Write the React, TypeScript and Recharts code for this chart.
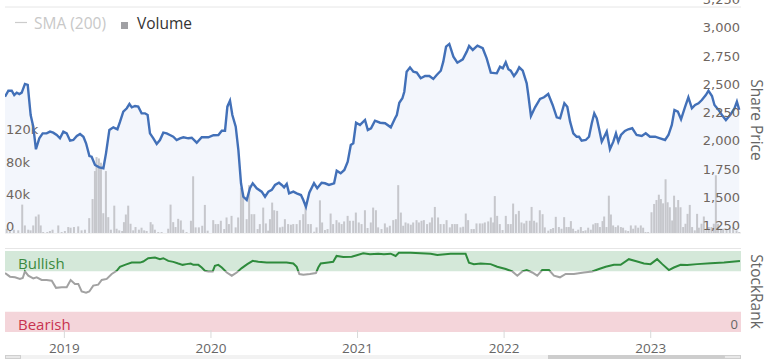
import React from "react";
import { ComposedChart, Line, Area, Bar, XAxis, YAxis, CartesianGrid, ReferenceArea } from "recharts";

// ---- Share price (decimal year, GBp) ----
const priceT = [2018.595,2018.618,2018.641,2018.658,2018.675,2018.693,2018.709,2018.731,2018.750,2018.770,2018.788,2018.806,2018.829,2018.852,2018.879,2018.902,2018.924,2018.948,2018.970,2018.993,2019.016,2019.039,2019.061,2019.085,2019.107,2019.130,2019.148,2019.171,2019.186,2019.209,2019.238,2019.266,2019.284,2019.307,2019.334,2019.362,2019.380,2019.402,2019.426,2019.444,2019.460,2019.482,2019.504,2019.527,2019.550,2019.568,2019.584,2019.607,2019.630,2019.652,2019.675,2019.698,2019.720,2019.743,2019.766,2019.789,2019.812,2019.846,2019.869,2019.903,2019.937,2019.982,2020.017,2020.051,2020.074,2020.096,2020.112,2020.130,2020.146,2020.169,2020.187,2020.205,2020.221,2020.244,2020.266,2020.285,2020.312,2020.346,2020.369,2020.392,2020.415,2020.437,2020.464,2020.483,2020.499,2020.517,2020.533,2020.562,2020.585,2020.614,2020.630,2020.648,2020.671,2020.703,2020.725,2020.755,2020.778,2020.805,2020.840,2020.858,2020.885,2020.910,2020.933,2020.954,2020.971,2020.990,2021.017,2021.051,2021.070,2021.092,2021.119,2021.154,2021.188,2021.227,2021.256,2021.268,2021.285,2021.306,2021.319,2021.335,2021.358,2021.381,2021.404,2021.431,2021.461,2021.490,2021.517,2021.540,2021.568,2021.585,2021.604,2021.626,2021.654,2021.681,2021.718,2021.745,2021.761,2021.786,2021.818,2021.854,2021.881,2021.909,2021.950,2021.972,2021.991,2022.011,2022.029,2022.045,2022.067,2022.086,2022.103,2022.127,2022.154,2022.165,2022.183,2022.211,2022.245,2022.272,2022.301,2022.331,2022.359,2022.382,2022.411,2022.431,2022.450,2022.472,2022.495,2022.511,2022.529,2022.557,2022.579,2022.598,2022.615,2022.632,2022.647,2022.666,2022.683,2022.700,2022.722,2022.745,2022.763,2022.779,2022.797,2022.824,2022.847,2022.874,2022.904,2022.939,2022.966,2022.995,2023.030,2023.064,2023.098,2023.121,2023.144,2023.162,2023.185,2023.207,2023.235,2023.257,2023.281,2023.303,2023.326,2023.349,2023.376,2023.394,2023.418,2023.435,2023.463,2023.486,2023.513,2023.542,2023.572,2023.588,2023.604];
const priceV = [2456,2509,2509,2471,2492,2480,2492,2569,2560,2294,2191,1991,2088,2132,2132,2147,2138,2117,2088,2147,2132,2067,2073,2108,2126,2102,2044,1931,1925,1852,1831,1823,1955,2162,2185,2168,2235,2324,2354,2392,2362,2374,2368,2309,2309,2294,2132,2088,2038,2073,2138,2132,2117,2102,2073,2088,2097,2088,2093,2049,2097,2097,2115,2117,2155,2155,2368,2421,2294,2191,1985,1690,1572,1542,1646,1690,1646,1616,1571,1616,1631,1675,1695,1675,1654,1684,1601,1616,1601,1586,1542,1483,1607,1690,1646,1695,1690,1675,1690,1801,1778,1808,1881,2029,2044,2226,2206,2250,2162,2177,2244,2226,2221,2185,2265,2294,2403,2442,2500,2678,2716,2678,2669,2619,2639,2639,2613,2648,2686,2766,2899,2923,2810,2757,2787,2855,2905,2870,2908,2885,2796,2669,2663,2722,2708,2761,2699,2686,2639,2672,2716,2686,2575,2471,2285,2362,2436,2451,2480,2383,2274,2265,2398,2368,2235,2132,2102,2102,2067,2073,2102,2221,2309,2265,2177,2058,2102,2147,1991,2058,2132,2058,2117,2153,2168,2177,2117,2108,2132,2102,2102,2088,2073,2117,2206,2339,2324,2256,2368,2451,2354,2383,2398,2427,2471,2509,2462,2383,2339,2294,2250,2294,2354,2412,2339];

// ---- Volume (decimal year, thousands) ----
const volT = [2018.607,2018.629,2018.656,2018.686,2018.713,2018.731,2018.754,2018.770,2018.788,2018.806,2018.825,2018.839,2018.856,2018.884,2018.902,2018.920,2018.959,2018.982,2019.004,2019.027,2019.043,2019.066,2019.095,2019.118,2019.141,2019.170,2019.193,2019.209,2019.220,2019.236,2019.250,2019.266,2019.284,2019.300,2019.318,2019.341,2019.357,2019.375,2019.395,2019.407,2019.420,2019.436,2019.452,2019.470,2019.486,2019.509,2019.527,2019.545,2019.562,2019.589,2019.602,2019.618,2019.641,2019.664,2019.709,2019.725,2019.743,2019.759,2019.777,2019.795,2019.811,2019.834,
2019.864,2019.879,2019.896,2019.918,2019.941,2019.959,2019.978,2020.016,2020.032,2020.050,2020.068,2020.091,2020.107,2020.123,2020.141,2020.169,2020.186,2020.205,2020.220,2020.244,2020.261,2020.278,2020.296,2020.319,2020.334,2020.357,2020.375,2020.391,2020.403,2020.418,2020.432,2020.452,2020.471,2020.489,2020.505,2020.527,2020.546,2020.562,2020.585,2020.607,2020.630,2020.646,2020.664,2020.682,2020.705,2020.721,2020.744,2020.759,2020.778,2020.796,2020.817,2020.834,2020.857,2020.875,2020.892,2020.909,2020.933,2020.948,2020.971,2020.989,2021.009,2021.028,2021.051,2021.069,2021.091,2021.107,
2021.126,2021.141,2021.164,2021.187,2021.203,2021.221,2021.244,2021.262,2021.278,2021.296,2021.312,2021.328,2021.346,2021.364,2021.380,2021.403,2021.419,2021.437,2021.453,2021.475,2021.494,2021.509,2021.528,2021.550,2021.567,2021.589,2021.608,2021.630,2021.646,2021.664,2021.680,2021.703,2021.721,2021.739,2021.755,2021.778,2021.794,2021.812,2021.835,2021.853,2021.869,2021.892,2021.910,2021.926,2021.937,2021.953,2021.971,2021.990,2022.012,2022.028,2022.046,2022.062,2022.081,2022.101,2022.119,2022.137,2022.153,2022.176,2022.188,2022.205,2022.222,2022.244,2022.263,2022.278,2022.302,2022.319,2022.335,2022.353,
2022.374,2022.392,2022.410,2022.426,2022.442,2022.456,2022.471,2022.488,2022.506,2022.524,2022.540,2022.556,2022.574,2022.592,2022.608,2022.624,2022.638,2022.654,2022.672,2022.683,2022.699,2022.715,2022.729,2022.744,2022.761,2022.778,2022.797,2022.812,2022.829,2022.847,2022.865,2022.881,2022.897,2022.915,2022.933,2022.949,2022.965,2022.983,2023.006,2023.024,2023.040,2023.056,2023.070,2023.085,2023.102,2023.116,2023.131,2023.147,2023.160,2023.172,2023.188,2023.204,2023.222,2023.238,2023.252,2023.267,2023.283,2023.301,2023.317,2023.329,2023.347,2023.363,2023.381,2023.397,2023.415,2023.431,2023.445,2023.460,2023.479,2023.495,2023.518,2023.540,2023.563,2023.586,2023.604];
const volK = [5.3,3.3,4.1,3.3,35.3,9.4,4.1,3.3,9.4,20.5,23,9.4,1.2,1.2,2.5,4.1,9.4,1.2,2.5,7.4,6.6,7.4,8.2,3.3,4.1,18.5,42.2,77,94.4,92.7,87.4,24.6,77,19.7,4.1,34,5.3,3.3,2.5,13.5,23,34,11.5,3.3,7.4,4.1,6.6,3.3,2.5,13.5,10.7,4.1,1.2,1.2,5.3,35.3,13.5,7.4,17.6,15.6,4.1,1.2,
15.2,70.5,7,7,9,34.9,2.9,16,11.1,11.1,15.2,4.9,19.3,11.1,21.3,7,19.3,56.2,50,17.2,59.5,23.4,23.4,4.9,11.1,31.6,11.9,2.9,17.2,37.8,28.3,27.5,7,7.8,17.2,11.1,10.3,11.1,11.1,16,23.4,35.7,11.1,11.1,1.6,7,40.6,13.1,3.7,4.9,24.2,11.1,16,13.1,11.1,14.4,21.3,15.2,15.2,25.4,13.1,11.1,28.3,6.2,13.1,31.6,
28.3,7,4.9,11.9,7,9,16,17.2,59.5,25.4,9,13.1,11.9,10.3,13.1,16,13.1,15.2,16,11.1,13.1,19.3,32.4,19.3,11.1,11.1,16,7,11.1,11.1,11.1,7,7.8,24.2,16,4.9,4.9,11.9,11.9,11.9,13.1,14.4,19.3,13.1,45.9,21.3,11.1,3.7,21.3,11.1,11.1,36.6,23.4,27.5,13.1,11.9,15.2,15.2,32.4,15.2,13.1,28.3,23.4,7,2.9,4.9,6.2,20.1,
7.4,5.3,19.7,7.4,7.4,14.8,5.3,2.5,4.1,7.4,2.5,3.3,6.6,4.1,10.7,12.3,12.3,7.4,14.8,20.5,7.4,46.4,23,9.4,7.4,9.4,7.4,6.6,3.3,2.5,9.4,5.3,9.4,6.6,9.4,6.6,1.2,1.2,25.8,36.1,41,47.6,42.2,36.9,66.8,38.2,32,15.6,46.4,32,41,32,7.4,11.5,23.8,34.9,7.4,3.3,23.8,6.6,11.5,20.5,5.3,7.4,7.4,11.5,71.8,11.5,5.3,5.3,4.1,5.3,7.4,3.3,1.2];

// ---- StockRank (decimal year, 0-100) ----
const rankT = [2018.595,2018.629,2018.663,2018.697,2018.716,2018.731,2018.754,2018.788,2018.811,2018.845,2018.879,2018.914,2018.943,2018.982,2019.016,2019.043,2019.072,2019.095,2019.118,2019.148,2019.170,2019.197,2019.231,2019.255,2019.289,2019.323,2019.357,2019.379,2019.413,2019.459,2019.516,2019.538,2019.572,2019.618,2019.652,2019.675,2019.709,2019.743,2019.777,2019.807,2019.834,2019.862,2019.880,2019.914,2019.937,2019.959,2019.982,2020.012,2020.027,2020.050,2020.074,2020.108,2020.142,2020.176,2020.210,2020.248,2020.285,2020.323,2020.380,2020.448,2020.516,2020.562,2020.585,2020.603,2020.630,2020.675,2020.716,2020.732,2020.749,2020.800,2020.834,2020.857,2020.903,2020.960,2020.995,2021.039,2021.085,2021.141,2021.180,2021.226,2021.260,2021.282,2021.362,2021.499,2021.544,2021.635,2021.737,2021.760,2021.794,2021.840,2021.908,2021.953,2022.011,2022.056,2022.090,2022.124,2022.154,2022.192,2022.226,2022.260,2022.306,2022.340,2022.381,2022.420,2022.476,2022.544,2022.601,2022.647,2022.693,2022.749,2022.795,2022.851,2022.908,2022.954,2022.999,2023.044,2023.079,2023.124,2023.158,2023.204,2023.249,2023.317,2023.409,2023.500,2023.609];
const rankV = [72.8,68.3,67.5,65.5,66.7,74.8,69.5,66.2,67.5,64.2,64.2,63.4,54.5,55.3,55.3,64.2,59.4,59.4,50,48.4,50,57.3,58.5,64.2,65.5,71.6,75.6,80.5,82.9,85.7,85.7,87,91.1,91.9,89.9,91.1,87.8,86.6,84.5,82.9,83.8,84.5,82.9,82.9,79.6,75.6,74.8,74.8,81.7,82.9,79.6,73.5,69.5,73.5,78.9,83.8,87.8,86.6,85.7,85.7,85.7,84.5,80.5,71.6,70.7,71.6,72.8,79.6,84.5,85.7,86.6,93.9,92.7,93,94.8,97.2,96,96.7,96,96.7,93.9,97.9,97.9,96.7,95.1,96.7,96.7,85.7,83.8,84.5,83.8,80.5,77.7,74.8,69.5,74.8,76.5,73.5,69.5,76.5,76.5,69.5,67.5,71.6,71.6,73.5,74.8,77.7,80.5,82.9,82.9,89.9,87,84.5,83.8,89.9,83.8,76.5,79.6,82.9,82.6,83.8,85,85.7,87.8];

// ---- axes / ticks ----
const X_DOMAIN: [number, number] = [2018.595, 2023.616];
const priceTicks = [1250, 1500, 1750, 2000, 2250, 2500, 2750, 3000, 3250];
const priceDomain: [number, number] = [1250, 3250];
const volumeTicks = [0, 40, 80, 120];
const volumeTickLabels = ["0", "40k", "80k", "120k"];
const volumeDomain: [number, number] = [0, 281];
const yearTicks = [2019, 2020, 2021, 2022, 2023];
const rankTicks = [0];
const bullishBand: [number, number] = [75, 100];
const bearishBand: [number, number] = [0, 25];

const priceData = priceT.map((t, i) => ({ t, price: priceV[i] }));
const volumeData = volT.map((t, i) => ({ t, vol: volK[i] }));
const rankData = rankT.map((t, i) => ({ t, rank: rankV[i] }));

const rankMax = Math.max(...rankV);
const rankMin = Math.min(...rankV);
const bullOffset = (rankMax - bullishBand[0]) / (rankMax - rankMin);

const TICK_COLOR = "#6f665f";
const TICK_FONT = "'DejaVu Sans', Verdana, sans-serif";
const UI_FONT = "'Open Sans', 'Noto Sans', sans-serif";
const BAR_COLOR = "#c6c7cc";

const TOP_H = 245;
const topMargin = { top: 7, right: 0, bottom: 12, left: 5 };
const volMargin = { top: 7, right: 27, bottom: 12, left: 0 };

function PriceTick(props: any) {
  const { x, y, payload } = props;
  return (
    <text x={x - 1} y={y - 3} textAnchor="end" fontSize={13} fontFamily={TICK_FONT} fill={TICK_COLOR}>
      {Number(payload.value).toLocaleString("en-US")}
    </text>
  );
}

function VolumeTick(props: any) {
  const { x, y, payload } = props;
  const label = volumeTickLabels[volumeTicks.indexOf(payload.value)];
  return (
    <text x={x + 1} y={y - 2} textAnchor="start" fontSize={13} fontFamily={TICK_FONT} fill={TICK_COLOR}>
      {label}
    </text>
  );
}

function RankTick(props: any) {
  const { x, y, payload } = props;
  return (
    <text x={x - 3} y={y - 3} textAnchor="end" fontSize={13} fontFamily={UI_FONT} fill="#666">
      {payload.value}
    </text>
  );
}

function YearTick(props: any) {
  const { x, y, payload } = props;
  return (
    <g>
      <line x1={x} x2={x} y1={y - 2} y2={y + 6} stroke="#d9d9d9" strokeWidth={1} />
      <text x={x} y={y + 21} textAnchor="middle" fontSize={13.5} fontFamily={UI_FONT} fill="#666">
        {payload.value}
      </text>
    </g>
  );
}

function VolumeBar(props: any) {
  const { x, y, width, height } = props;
  if (!(height > 0)) return null;
  const cx = x + width / 2;
  return <rect x={cx - 1} y={y} width={2} height={height} fill={BAR_COLOR} />;
}

function SideTitle(props: any) {
  const { viewBox, title } = props;
  const vb = viewBox || { x: 741, y: 7, width: 27, height: 226 };
  const x = vb.x + 10;
  const y = vb.y + vb.height / 2;
  return (
    <text x={x} y={y} transform={`rotate(90 ${x} ${y})`} textAnchor="middle" fontSize={15.5} fontFamily={UI_FONT} fill="#666">
      {title}
    </text>
  );
}

function BandLabel(props: any) {
  const { viewBox, title, color } = props;
  if (!viewBox) return null;
  return (
    <text x={viewBox.x + 13} y={viewBox.y + viewBox.height - 2} fontSize={15} fontFamily={UI_FONT} fill={color}>
      {title}
    </text>
  );
}

export default function App() {
  const abs = (top: number, h: number): React.CSSProperties => ({ position: "absolute", left: 0, top, width: 768, height: h });
  return (
    <div style={{ position: "absolute", left: 0, top: 0, width: 768, height: 359, background: "#fff", overflow: "hidden" }}>
      {/* layer 1: grid + area fill */}
      <div style={abs(0, TOP_H)}>
        <ComposedChart width={768} height={TOP_H} data={priceData} margin={topMargin}>
          <CartesianGrid vertical={false} stroke="#e6e6e6" />
          <XAxis dataKey="t" type="number" domain={X_DOMAIN} allowDataOverflow hide />
          <YAxis orientation="right" width={27} domain={priceDomain} ticks={priceTicks} interval={0} allowDataOverflow tick={false} axisLine={false} tickLine={false} />
          <Area dataKey="price" type="linear" stroke="none" fill="#f3f6fc" fillOpacity={1} isAnimationActive={false} dot={false} activeDot={false} />
        </ComposedChart>
      </div>
      {/* layer 2: volume bars */}
      <div style={abs(0, TOP_H)}>
        <ComposedChart width={768} height={TOP_H} data={volumeData} margin={volMargin}>
          <XAxis dataKey="t" type="number" domain={X_DOMAIN} allowDataOverflow hide />
          <YAxis orientation="left" width={5} domain={volumeDomain} ticks={volumeTicks} interval={0} allowDataOverflow tick={VolumeTick} tickSize={0} tickMargin={0} axisLine={false} tickLine={false} />
          <Bar dataKey="vol" fill={BAR_COLOR} barSize={2} shape={VolumeBar} isAnimationActive={false} />
        </ComposedChart>
      </div>
      {/* layer 3: price line + price axis */}
      <div style={abs(0, TOP_H)}>
        <ComposedChart width={768} height={TOP_H} data={priceData} margin={topMargin}>
          <XAxis dataKey="t" type="number" domain={X_DOMAIN} allowDataOverflow hide />
          <YAxis
            orientation="right"
            width={27}
            domain={priceDomain}
            ticks={priceTicks}
            interval={0}
            allowDataOverflow
            tick={PriceTick}
            tickSize={0}
            tickMargin={0}
            axisLine={false}
            tickLine={false}
            label={<SideTitle title="Share Price" />}
          />
          <Line dataKey="price" type="linear" stroke="#4270b8" strokeWidth={2.4} dot={false} activeDot={false} isAnimationActive={false} />
        </ComposedChart>
      </div>

      {/* legend */}
      <svg width={768} height={40} style={{ position: "absolute", left: 0, top: 0 }}>
        <line x1={15} x2={27} y1={22.5} y2={22.5} stroke="#cccccc" strokeWidth={1.2} />
        <text x={34} y={28.7} fontSize={15.5} fontFamily={UI_FONT} fill="#c8c8c8">SMA (200)</text>
        <rect x={121} y={22} width={7} height={7} fill="#a0a0a4" />
        <text x={137} y={28.7} fontSize={15.5} fontFamily={UI_FONT} fill="#333">Volume</text>
      </svg>

      {/* panel separator */}
      <div style={{ position: "absolute", left: 5, top: 248, width: 736, height: 1, background: "#e6e6e6" }} />

      {/* StockRank panel */}
      <div style={abs(240, 119)}>
        <ComposedChart width={768} height={119} data={rankData} margin={{ top: 11, right: 0, bottom: 0, left: 5 }}>
          <defs>
            <linearGradient id="rankStroke" x1="0" y1="0" x2="0" y2="1">
              <stop offset={bullOffset} stopColor="#2e8b3c" />
              <stop offset={bullOffset} stopColor="#a2a2a2" />
            </linearGradient>
          </defs>
          <XAxis dataKey="t" type="number" domain={X_DOMAIN} allowDataOverflow ticks={yearTicks} interval={0} height={27} tick={YearTick} tickSize={0} tickMargin={0} axisLine={false} tickLine={false} />
          <YAxis
            orientation="right"
            width={27}
            domain={[0, 100]}
            ticks={rankTicks}
            interval={0}
            allowDataOverflow
            tick={RankTick}
            tickSize={0}
            tickMargin={0}
            axisLine={false}
            tickLine={false}
            label={<SideTitle title="StockRank" />}
          />
          <ReferenceArea y1={bullishBand[0]} y2={bullishBand[1]} fill="#d4e8d9" fillOpacity={1} stroke="none" label={<BandLabel title="Bullish" color="#3b8a40" />} />
          <ReferenceArea y1={bearishBand[0]} y2={bearishBand[1]} fill="#f4d5da" fillOpacity={1} stroke="none" label={<BandLabel title="Bearish" color="#c8324f" />} />
          <Line dataKey="rank" type="linear" stroke="url(#rankStroke)" strokeWidth={2} dot={false} activeDot={false} isAnimationActive={false} />
        </ComposedChart>
      </div>

      {/* navigator scrollbar */}
      <div style={{ position: "absolute", left: 5, top: 355, width: 736, height: 4, background: "#f2f2f2" }} />
      <div style={{ position: "absolute", left: 5, top: 355, width: 16, height: 4, background: "#e8e8e8", border: "1px solid #cfcfcf", boxSizing: "border-box" }} />
      <div style={{ position: "absolute", left: 548, top: 355, width: 176, height: 4, background: "#cdcdcd" }} />
      <div style={{ position: "absolute", left: 724, top: 355, width: 17, height: 4, background: "#e8e8e8", border: "1px solid #cfcfcf", boxSizing: "border-box" }} />
    </div>
  );
}
